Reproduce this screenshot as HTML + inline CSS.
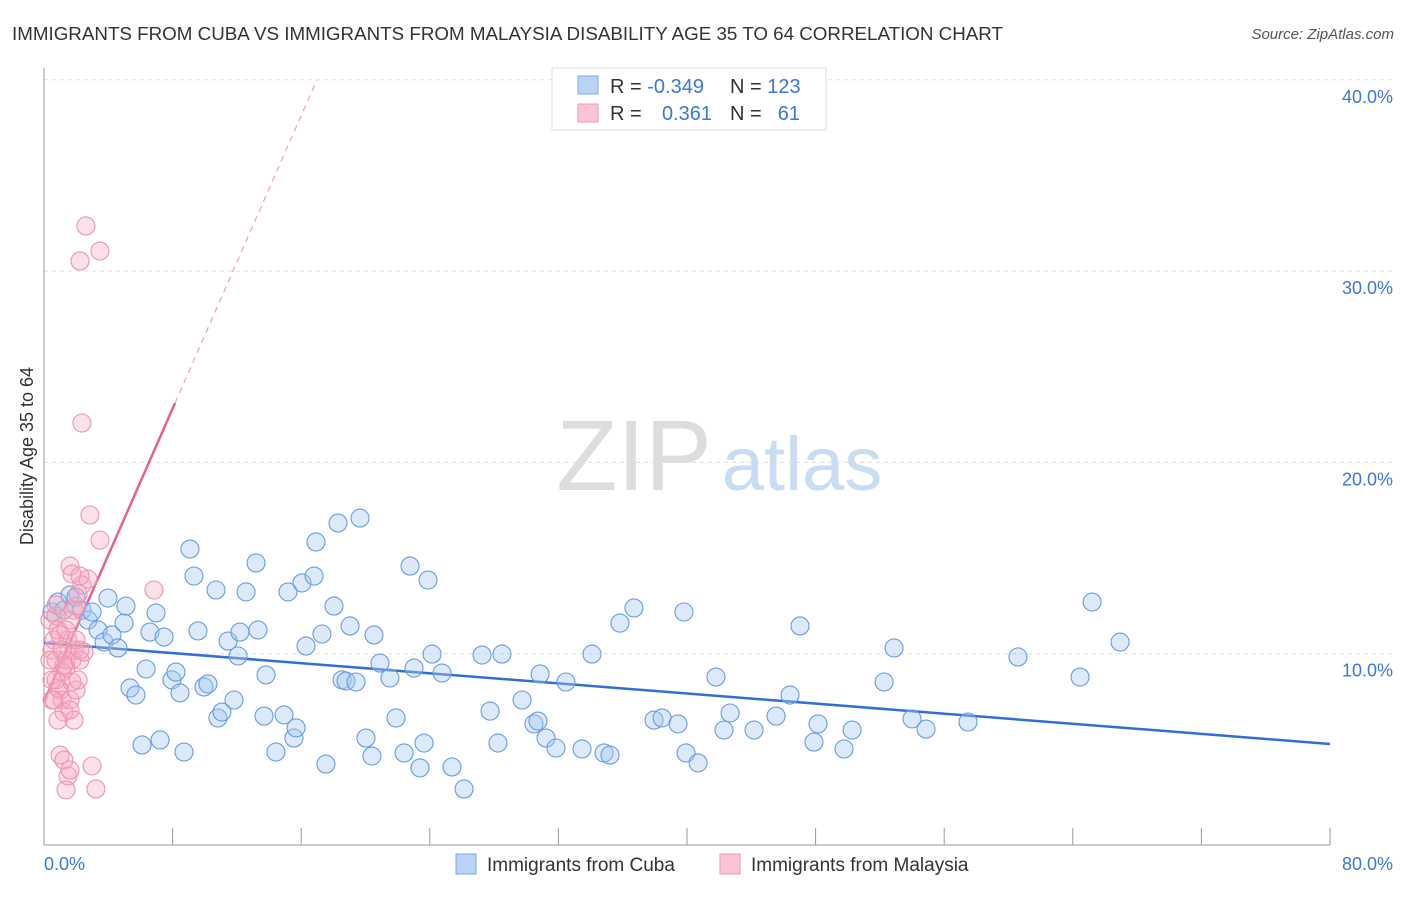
<!DOCTYPE html>
<html><head><meta charset="utf-8"><style>
body{margin:0;background:#fff;font-family:"Liberation Sans",sans-serif;}
svg text{font-family:"Liberation Sans",sans-serif;}
</style></head><body>
<svg id="chart" width="1406" height="892">
<text x="12" y="40" font-size="18" fill="#333" textLength="991" lengthAdjust="spacingAndGlyphs">IMMIGRANTS FROM CUBA VS IMMIGRANTS FROM MALAYSIA DISABILITY AGE 35 TO 64 CORRELATION CHART</text>
<text x="1394" y="39" font-size="15" fill="#555" text-anchor="end" font-style="italic">Source: ZipAtlas.com</text>
<g><text x="634" y="490" font-size="100" fill="#ddd" text-anchor="middle" font-family="Liberation Serif">ZIP</text><text x="802" y="490" font-size="76" fill="#c8dcf4" text-anchor="middle">atlas</text></g>
<g id="grid"></g><g id="axes"></g><g id="lines"></g><g id="pts"></g>
<text x="33" y="456" font-size="18" fill="#333" text-anchor="middle" transform="rotate(-90 33 456)">Disability Age 35 to 64</text>
<text x="44" y="870" font-size="18" fill="#3b78d8">0.0%</text>
<text x="1393" y="870" font-size="18" fill="#3b78d8" text-anchor="end">80.0%</text>
<g>
<rect x="552" y="68" width="274" height="62" fill="#fff" stroke="#ddd"/>
<rect x="578" y="76" width="20" height="18" fill="#b9d3f5" stroke="#7ea8e6"/>
<rect x="578" y="104" width="20" height="18" fill="#f9c5d5" stroke="#eb9ab4"/>
<text x="610" y="93" font-size="20" fill="#333">R = <tspan fill="#3b78d8">-0.349</tspan></text>
<text x="730" y="93" font-size="20" fill="#333">N = <tspan fill="#3b78d8">123</tspan></text>
<text x="610" y="120" font-size="20" fill="#333">R = </text><text x="712" y="120" font-size="20" fill="#3b78d8" text-anchor="end">0.361</text>
<text x="730" y="120" font-size="20" fill="#333">N = </text><text x="800" y="120" font-size="20" fill="#3b78d8" text-anchor="end">61</text>
</g>
<g>
<rect x="456" y="854" width="20" height="20" fill="#b9d3f5" stroke="#7ea8e6"/>
<text x="487" y="871" font-size="19" fill="#333">Immigrants from Cuba</text>
<rect x="720" y="854" width="20" height="20" fill="#f9c5d5" stroke="#eb9ab4"/>
<text x="751" y="871" font-size="19" fill="#333">Immigrants from Malaysia</text>
</g>
</svg>
<script>
const cubaX=[0.5,0.87,1.24,1.62,1.99,2.36,2.74,2.99,3.36,3.73,3.98,4.23,4.6,4.98,5.1,5.35,5.72,6.1,6.35,6.59,6.97,7.22,7.47,7.96,8.21,8.46,8.71,9.08,9.33,9.58,9.95,10.2,10.7,10.82,11.07,11.45,11.82,12.07,12.19,12.57,13.19,13.31,13.69,13.81,14.43,14.93,15.18,15.55,15.68,16.05,16.3,16.8,16.92,17.29,17.54,18.04,18.29,18.54,18.79,19.04,19.41,19.66,20.03,20.4,20.53,20.9,21.52,21.9,22.4,22.77,23.02,23.39,23.64,23.89,24.14,24.76,25.38,26.13,27.25,27.75,28.24,28.49,29.74,30.48,30.73,30.86,31.23,31.85,32.47,33.47,34.09,34.84,35.21,35.83,36.7,37.95,38.45,39.44,39.81,39.94,40.69,41.8,42.3,42.68,44.17,45.54,46.41,47.03,47.9,48.15,49.77,50.27,52.26,52.88,54,54.87,57.48,60.59,64.45,65.2,66.94];
const cubaY=[12.18,12.7,12.28,13.07,12.96,12.28,11.76,12.18,11.24,10.61,12.91,10.98,10.3,11.6,12.49,8.21,7.84,5.23,9.2,11.13,12.13,5.49,10.87,8.63,9.04,7.95,4.86,15.47,14.06,11.19,8.26,8.42,13.33,6.64,6.95,10.66,7.58,9.88,11.13,13.23,14.74,11.24,6.74,8.89,4.86,6.8,13.23,5.59,6.12,13.7,10.4,14.06,15.84,11.03,4.23,12.49,16.83,8.63,8.57,11.45,8.52,17.09,5.59,4.65,10.98,9.51,8.73,6.64,4.81,14.58,9.25,4.03,5.33,13.85,9.98,8.99,4.08,2.93,9.93,7,5.33,9.98,7.58,6.33,6.48,8.94,5.59,5.07,8.52,5.02,9.98,4.81,4.7,11.6,12.39,6.53,6.64,6.33,12.18,4.81,4.29,8.78,6.01,6.9,6.01,6.74,7.84,11.45,5.38,6.33,5.02,6.01,8.52,10.3,6.59,6.06,6.43,9.83,8.78,12.7,10.61];
const malX=[0.37,0.5,0.62,0.75,0.87,1,1.12,1.24,1.37,1.49,1.62,1.74,1.87,1.99,1,1.24,1.49,1.62,1.37,2.99,3.23,0.75,0.87,1.12,1.37,1.74,1.87,1.99,2.12,2.36,2.74,1.62,1.74,2.24,2.61,2.24,3.48,2.36,2.86,3.48,6.84,0.5,0.75,1,1.24,1.62,1.87,2.12,2.24,0.62,0.37,0.5,0.87,1.12,1.37,1.62,1.99,2.24,2.49,0.75];
const malY=[11.76,10.19,10.72,9.67,8.21,8.1,7.58,6.95,9.67,10.72,7.58,9.67,10.19,8.1,4.7,4.44,3.61,3.92,2.88,4.13,2.93,11.97,11.24,9.04,9.25,8.52,12.28,12.49,13.12,13.59,13.9,14.58,14.17,14.06,32.36,30.53,31.05,22.06,17.25,15.94,13.33,7.58,8.63,10.98,9.41,7.06,6.53,8.63,10.19,7.58,9.67,8.63,6.53,10.19,11.24,11.76,10.72,9.67,10.09,12.55];
const yTicks=[10,20,30,40];
const yTickLabels=["10.0%","20.0%","30.0%","40.0%"];
const xTicks=[8,16,24,32,40,48,56,64,72,80];
const cubaTrend=[10.56,5.28];
const malTrend=[7.5,23.1,8.15];
const NS="http://www.w3.org/2000/svg";
const sx=v=>44+v/80*1286, sy=v=>845-v*19.13;
function mk(t,a,p){const e=document.createElementNS(NS,t);for(const k in a)e.setAttribute(k,a[k]);p.appendChild(e);return e;}
const grid=document.getElementById('grid'),axes=document.getElementById('axes'),lines=document.getElementById('lines'),pts=document.getElementById('pts');
yTicks.forEach((v,i)=>{
 const l=mk('line',{x1:44,x2:1392,y1:sy(v),y2:sy(v),stroke:'#ddd','stroke-dasharray':'4,4'},grid);
 
 
 const t=mk('text',{x:1393,y:sy(v)+23,'font-size':18,fill:'#3b78d8','text-anchor':'end'},grid);
 t.textContent=yTickLabels[i];
 
 
});
const ya=mk('line',{x1:44,x2:44,y1:68,y2:845,stroke:'#999'},axes);


const xa=mk('line',{x1:44,x2:1330,y1:845,y2:845,stroke:'#999'},axes);


xTicks.forEach(v=>{
 const t=mk('line',{x1:sx(v),x2:sx(v),y1:828,y2:845,stroke:'#999'},axes);
 
 
});
function dots(X,Y,fill,stroke,name){X.forEach((x,i)=>{
 const c=mk('circle',{cx:sx(x),cy:sy(Y[i]),r:9,fill:fill,stroke:stroke,'stroke-width':1.1},pts);
 
 
});}
dots(cubaX,cubaY,'rgba(165,199,240,0.4)','#6a9be0','cuba-point');
dots(malX,malY,'rgba(246,170,193,0.35)','#eb94b1','malaysia-point');
const bl=mk('line',{x1:sx(0),y1:sy(cubaTrend[0]),x2:sx(80),y2:sy(cubaTrend[1]),stroke:'#2f6fd6','stroke-width':2.5},lines);


const slope=(malTrend[1]-malTrend[0])/malTrend[2];
const pl=mk('line',{x1:sx(0),y1:sy(malTrend[0]),x2:sx(malTrend[2]),y2:sy(malTrend[1]),stroke:'#e8608e','stroke-width':2.5},lines);


const xe=(40-malTrend[0])/slope;
const pd=mk('line',{x1:sx(malTrend[2]),y1:sy(malTrend[1]),x2:sx(xe),y2:sy(40),stroke:'#eaa0b8','stroke-width':1.2,'stroke-dasharray':'6,5'},lines);


</script>
</body></html>
